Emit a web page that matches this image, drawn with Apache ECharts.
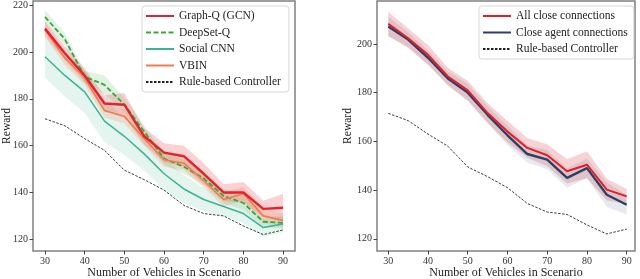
<!DOCTYPE html>
<html>
<head>
<meta charset="utf-8">
<script src="https://cdn.jsdelivr.net/npm/echarts@6/dist/echarts.min.js"></script>
<style>html,body{margin:0;padding:0;background:#fff}#c{width:640px;height:279px}</style>
</head>
<body>
<div id="c"></div>
<script>
var vehicles = [30,35,40,45,50,55,60,65,70,75,80,85,90];
var xTicks = [30,40,50,60,70,80,90];
var yTicksLeft = [120,140,160,180,200,220];
var yTicksRight = [120,140,160,180,200];

var graphQ    = [210, 199.5, 190, 178, 177.5, 164, 157, 155.5, 148, 140, 140, 133, 133.5];
var graphQStd = [3, 3, 3, 3.5, 5, 3.5, 4, 4.5, 4.5, 3.5, 4.5, 3.5, 6];
var deepSet    = [215, 205.5, 189.5, 186, 177.5, 166, 154.5, 151, 146, 138.5, 135.5, 127.5, 127];
var deepSetStd = [3, 2.5, 2.5, 4, 3, 2.5, 2.5, 3, 3, 3, 3, 2.5, 2.5];
var socialCNN    = [198, 190, 183, 170.5, 164, 156.5, 148, 141.5, 137, 134, 131, 125, 126.5];
var socialCNNStd = [9, 9, 9, 9, 8, 7, 7, 6, 5, 4, 4, 4, 3.5];
var vbin    = [209.5, 197.5, 189, 175, 172.5, 163, 154, 152.5, 145, 137, 139.5, 130, 128];
var vbinStd = [3, 3, 3, 3, 3, 3, 3, 3, 3, 3, 3, 3, 3];
var ruleBased = [171.5, 168.5, 163, 158, 149.5, 145.5, 141, 134.5, 131, 130, 125.7, 122, 124];

var allClose    = [208.2, 202.3, 195.5, 186.6, 180.9, 171.6, 164, 157.3, 154.3, 147.7, 150.4, 140.2, 137.4];
var allCloseStd = [5, 4, 4, 3.5, 4, 4, 4.5, 4, 4.5, 5, 5.5, 4.5, 3];
var closeAgent    = [207.1, 201.8, 194.3, 185.8, 180, 170.9, 162.5, 154.8, 152.5, 145, 149, 138.1, 134];
var closeAgentStd = [4, 3, 3, 3, 3.5, 3.5, 4, 3.5, 4, 4, 4, 5, 4];

var FONT = 'Liberation Serif';
var frame = '#808080';

function pairs(vals){ return vehicles.map(function(x,i){ return [x, vals[i]]; }); }

function band(id, mean, std, color, opacity, axisIdx){
  var data = vehicles.map(function(x,i){ return [x, mean[i]-std[i], mean[i]+std[i]]; });
  return {
    name:id, type:'custom', xAxisIndex:axisIdx, yAxisIndex:axisIdx, silent:true, z:1,
    data:data, encode:{x:0, y:[1,2]},
    renderItem:function(params, api){
      if (params.dataIndex !== 0) return null;
      var pts = [];
      for (var i = 0; i < data.length; i++) pts.push(api.coord([data[i][0], data[i][2]]));
      for (var j = data.length - 1; j >= 0; j--) pts.push(api.coord([data[j][0], data[j][1]]));
      return {type:'polygon', shape:{points:pts}, style:{fill:color, opacity:opacity}};
    }
  };
}

function line(name, vals, color, width, type, axisIdx, z){
  return {name:name, type:'line', xAxisIndex:axisIdx, yAxisIndex:axisIdx, data:pairs(vals),
    symbol:'none', lineStyle:{color:color, width:width, type:type}, itemStyle:{color:color}, z:z||3};
}

function xAxis(idx, min, max){
  return {gridIndex:idx, type:'value', min:min, max:max,
    name:'Number of Vehicles in Scenario', nameLocation:'middle', nameGap:16, nameMoveOverlap:false,
    nameTextStyle:{fontFamily:FONT, fontSize:12, color:'#222'},
    axisLine:{show:false}, splitLine:{show:false},
    axisTick:{show:true, length:3.5, lineStyle:{color:'#444'}, customValues:xTicks},
    axisLabel:{fontFamily:FONT, fontSize:10, color:'#333', margin:5, customValues:xTicks}};
}
function yAxis(idx, min, max, ticks, gap){
  return {gridIndex:idx, type:'value', min:min, max:max,
    name:'Reward', nameLocation:'middle', nameGap:gap, nameMoveOverlap:false,
    nameTextStyle:{fontFamily:FONT, fontSize:11.5, color:'#222'},
    axisLine:{show:false}, splitLine:{show:false},
    axisTick:{show:true, length:3.5, lineStyle:{color:'#444'}, customValues:ticks},
    axisLabel:{fontFamily:FONT, fontSize:10, color:'#333', margin:5, customValues:ticks}};
}

var legendCommon = {orient:'vertical', itemWidth:28, itemHeight:12, itemGap:4.5,
  itemStyle:{color:'transparent', borderWidth:0, opacity:0},
  textStyle:{fontFamily:FONT, fontSize:11.5, color:'#222'},
  borderColor:'#d8d8d8', borderWidth:1, borderRadius:3, backgroundColor:'rgba(255,255,255,0.85)'};

var series = [
  band('gq', graphQ, graphQStd, '#e8303a', 0.22, 0),
  band('ds', deepSet, deepSetStd, '#4caf4c', 0.16, 0),
  band('sc', socialCNN, socialCNNStd, '#54b89b', 0.16, 0),
  band('vb', vbin, vbinStd, '#f47c50', 0.2, 0),
  line('Graph-Q (GCN)', graphQ, '#e0242f', 2.4, 'solid', 0, 5),
  line('DeepSet-Q', deepSet, '#3aa53a', 1.8, [5,2.5], 0, 4),
  line('Social CNN', socialCNN, '#3db394', 1.5, 'solid', 0, 3),
  line('VBIN', vbin, '#f47a4d', 1.6, 'solid', 0, 4),
  line('Rule-based Controller', ruleBased, '#222', 0.9, [2.5,1.5], 0, 3),
  band('ac', allClose, allCloseStd, '#e0303a', 0.22, 1),
  band('ca', closeAgent, closeAgentStd, '#5a6f90', 0.15, 1),
  line('All close connections', allClose, '#e41d2a', 2, 'solid', 1, 5),
  line('Close agent connections', closeAgent, '#2f3f63', 2.4, 'solid', 1, 4),
  line('Rule-based Controller ', ruleBased, '#222', 0.9, [2.5,1.5], 1, 3)
];

var chart = echarts.init(document.getElementById('c'), null, {renderer:'canvas'});
chart.setOption({
  animation:false,
  backgroundColor:'#fff',
  grid:[
    {left:33, right:345, top:1, bottom:28, containLabel:false, outerBoundsMode:'none',
     show:true, borderColor:frame, borderWidth:1.5, backgroundColor:'transparent'},
    {left:377, right:5, top:1, bottom:28, containLabel:false, outerBoundsMode:'none',
     show:true, borderColor:frame, borderWidth:1.5, backgroundColor:'transparent'}
  ],
  xAxis:[xAxis(0, 26.98, 93.0), xAxis(1, 27.16, 92.1)],
  yAxis:[yAxis(0, 115, 221.8, yTicksLeft, 20), yAxis(1, 115, 217.6, yTicksRight, 23)],
  legend:[
    Object.assign({}, legendCommon, {left:142, top:6, padding:[4,8,4,3],
      data:['Graph-Q (GCN)','DeepSet-Q','Social CNN','VBIN','Rule-based Controller']}),
    Object.assign({}, legendCommon, {left:479, top:6, padding:[4,6,4,3],
      data:['All close connections','Close agent connections','Rule-based Controller ']})
  ],
  series:series
});
</script>
</body>
</html>
